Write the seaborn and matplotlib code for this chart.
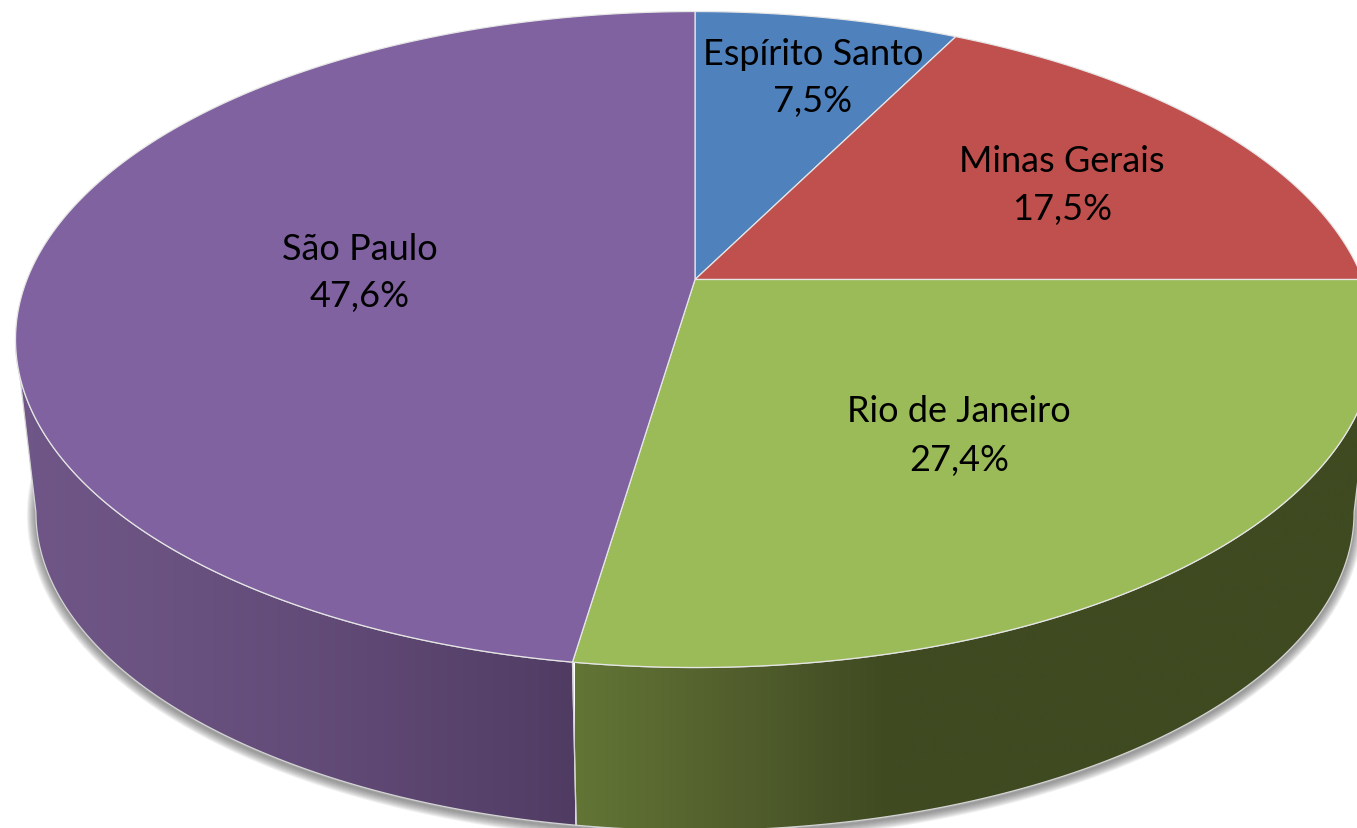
import numpy as np
import matplotlib
matplotlib.use("Agg")
import matplotlib.pyplot as plt
import seaborn as sns
from matplotlib.path import Path
from matplotlib.patches import Polygon
from matplotlib.transforms import Affine2D, Transform

# ---- data ----
states = ["Espírito Santo", "Minas Gerais", "Rio de Janeiro", "São Paulo"]
shares = [7.5, 17.5, 27.4, 47.6]
share_labels = ["7,5%", "17,5%", "27,4%", "47,6%"]

# ---- styling ----
top_colors = ["#4F81BD", "#C0504D", "#9BBB59", "#7F629F"]
wall_stops = {
    "São Paulo": (["#705789", "#69517F", "#5E4873", "#503C63"], 0, 575),
    "Rio de Janeiro": (["#627535", "#525F2D", "#3F4A21", "#3F4A21", "#3F4A21", "#3F4A21"], 575, 1360),
}
label_xy = [(813, 54), (1062, 161), (959, 412), (360, 249)]
value_xy = [(813, 101), (1062, 209), (959, 460), (360, 296)]

# perspective of the pie's top face, in picture pixels
CX, CY, W, H, K = 695.0, 280.5, 668.0, 317.0, 0.183
# the lower rim is the top rim shrunk a little and moved down
DEPTH_SCALE, DEPTH_SHIFT = 0.97, 183.0


class Perspective(Transform):
    input_dims = output_dims = 2
    has_inverse = False
    is_separable = False

    def transform_non_affine(self, xy):
        xy = np.asarray(xy, float)
        d = 1 + K * xy[:, 1]
        return np.column_stack([CX + W * xy[:, 0] / d, CY - H * xy[:, 1] / d])

    def transform_path_non_affine(self, path):
        polys = path.to_polygons(Affine2D().scale(3000), closed_only=True)
        return Path(self.transform_non_affine(polys[0] / 3000.0), closed=True)


persp = Perspective()


def arc(a0, a1, n=240):
    t = np.radians(np.linspace(a0, a1, n))
    return persp.transform_non_affine(np.column_stack([np.cos(t), np.sin(t)]))


def lower(pts):
    return np.column_stack([CX + DEPTH_SCALE * (pts[:, 0] - CX),
                            DEPTH_SCALE * pts[:, 1] + DEPTH_SHIFT])


sns.set_style("white")
plt.rcParams["font.family"] = ["Lato", "DejaVu Sans"]
palette = sns.color_palette(top_colors)

fig = plt.figure(figsize=(13.57, 8.29), dpi=100, facecolor="white")
ax = fig.add_axes([0, 0, 1, 1])

wedges, _ = ax.pie(shares, colors=palette, startangle=90, counterclock=False,
                   radius=1, wedgeprops=dict(edgecolor="#E6E6E6", linewidth=0.9))
for w in wedges:
    w.set_transform(persp + ax.transData)
    w.set_zorder(5)

# soft shadow round the lower rim
rim = lower(arc(0, 360, 500))
for lw in np.arange(2, 20, 2):
    ax.plot(rim[:, 0], rim[:, 1] + 2.5, color="#555555", alpha=0.085, lw=lw * 0.72,
            solid_capstyle="round", zorder=1)

# side walls with a horizontal gradient
FRONT_LO, FRONT_HI = -169.5, -10.5
for name, w in zip(states, wedges):
    lo, hi = max(w.theta1, FRONT_LO), min(w.theta2, FRONT_HI)
    if lo >= hi or name not in wall_stops:
        continue
    top = arc(lo, hi)
    poly = np.vstack([top, lower(top)[::-1]])
    stops, x0, x1 = wall_stops[name]
    cmap = sns.blend_palette(stops, as_cmap=True)
    patch = Polygon(poly, closed=True, facecolor="none", edgecolor="#D4D4D4",
                    linewidth=0.9, zorder=3)
    ax.add_patch(patch)
    im = ax.imshow(np.linspace(0, 1, 512)[None, :], cmap=cmap, aspect="auto",
                   extent=(x0, x1, 829, 0), zorder=2, interpolation="bilinear")
    im.set_clip_path(patch)

ax.set_aspect("auto")
ax.set_xlim(0, 1357)
ax.set_ylim(829, 0)
ax.set_axis_off()

for name, val, p, q in zip(states, share_labels, label_xy, value_xy):
    ax.text(p[0], p[1], name, ha="center", va="center", fontsize=26, color="black", zorder=6)
    ax.text(q[0], q[1], val, ha="center", va="center", fontsize=26, color="black", zorder=6)

fig.savefig("out.png", dpi=100, facecolor="white")
